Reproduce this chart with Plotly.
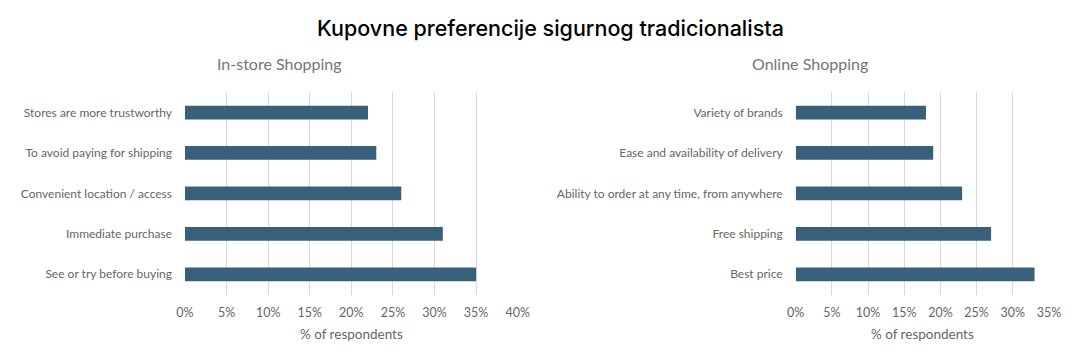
import plotly.graph_objects as go

instore_labels = ["See or try before buying", "Immediate purchase", "Convenient location / access",
                  "To avoid paying for shipping", "Stores are more trustworthy"]
instore_values = [35, 31, 26, 23, 22]

online_labels = ["Best price", "Free shipping", "Ability to order at any time, from anywhere",
                 "Ease and availability of delivery", "Variety of brands"]
online_values = [33, 27, 23, 19, 18]

left_ticks = [0, 5, 10, 15, 20, 25, 30, 35, 40]
right_ticks = [0, 5, 10, 15, 20, 25, 30, 35]

# page body has an 8px default margin; work in screen pixels and shift
OFF = 8
W, H = 1073 - OFF, 357 - OFF
bar_color = "#38607A"
text_gray = "#666666"
grid = "#D9D9D9"
font_main = "Lato"


def px(x):
    return (x - OFF) / W


def py(y):
    return 1 - (y - OFF) / H


fig = go.Figure()
fig.add_trace(go.Bar(y=instore_labels, x=instore_values, orientation="h",
                     marker=dict(color=bar_color, line=dict(width=0)), width=0.34,
                     xaxis="x", yaxis="y", showlegend=False))
fig.add_trace(go.Bar(y=online_labels, x=online_values, orientation="h",
                     marker=dict(color=bar_color, line=dict(width=0)), width=0.34,
                     xaxis="x2", yaxis="y2", showlegend=False))

ydom = [py(294.5), py(92.3)]


def xaxis(dom, rng, ticks):
    return dict(domain=dom, range=rng, tickvals=ticks, ticktext=[f"{t}%" for t in ticks],
                showgrid=True, gridcolor=grid, gridwidth=1, zeroline=False, showline=False,
                ticks="", automargin=False, ticklabelstandoff=9,
                tickfont=dict(family=font_main, size=12.5, color=text_gray),
                title=dict(text="% of respondents", font=dict(family=font_main, size=13.5, color=text_gray),
                           standoff=10),
                fixedrange=True)


def yaxis(anchor):
    return dict(domain=ydom, anchor=anchor, showgrid=False, zeroline=False, showline=False,
                ticks="", ticklabelstandoff=12, automargin=False,
                tickfont=dict(family=font_main, size=12, color=text_gray), fixedrange=True)


fig.update_layout(
    width=W, height=H,
    margin=dict(l=0, r=0, t=0, b=0, autoexpand=False),
    paper_bgcolor="white", plot_bgcolor="white",
    xaxis=xaxis([px(185), px(517.7)], [0, 40], left_ticks) | dict(anchor="y"),
    yaxis=yaxis("x"),
    xaxis2=xaxis([px(795.7), px(1049)], [0, 35], right_ticks) | dict(anchor="y2"),
    yaxis2=yaxis("x2"),
    bargap=0.66,
    annotations=[
        dict(text="Kupovne preferencije sigurnog tradicionalista", x=px(550.5), y=py(28),
             xref="paper", yref="paper", showarrow=False, xanchor="center", yanchor="middle",
             font=dict(family="Inter", size=21.5, color="#000000", weight=500)),
        dict(text="In-store Shopping", x=px(279), y=py(63),
             xref="paper", yref="paper", showarrow=False, xanchor="center", yanchor="middle",
             font=dict(family=font_main, size=16, color="#757575")),
        dict(text="Online Shopping", x=px(810), y=py(63),
             xref="paper", yref="paper", showarrow=False, xanchor="center", yanchor="middle",
             font=dict(family=font_main, size=16, color="#757575")),
    ],
)

fig.write_html("out.html")
